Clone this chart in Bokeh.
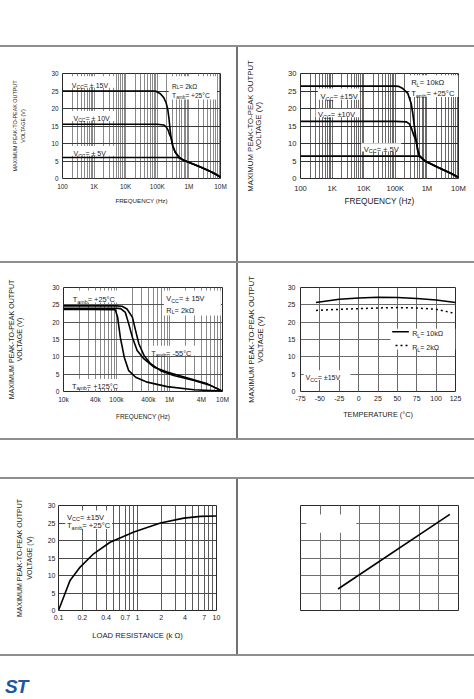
from bokeh.plotting import figure
from bokeh.models import FixedTicker, BoxAnnotation, Label, Spacer, Div, Arrow, GlobalInlineStyleSheet
from bokeh.layouts import row, column
from bokeh.embed import file_html
from bokeh.resources import INLINE
from bokeh.core.properties import value

FONT = "Liberation Sans"
INK = "#1b1b1b"

# ---------------- data ----------------
# Panel 1 : max output swing vs frequency, RL = 2 kOhm, Tamb = +25 C
p1_freq_15 = [100, 1e3, 1e4, 5e4, 8.7e4, 1.25e5, 1.6e5, 1.89e5, 2.14e5, 2.36e5, 2.53e5, 2.73e5, 3.08e5, 3.74e5, 4.77e5, 6.88e5, 1.12e6, 2.32e6, 4.82e6, 7.84e6, 1e7]
p1_vpp_15 = [25.0, 25.0, 25.0, 25.0, 25.0, 24.2, 23.1, 21.7, 19.8, 16.9, 14.1, 11.7, 9.3, 7.4, 6.2, 5.2, 4.4, 3.3, 2.0, 1.0, 0.3]
p1_freq_10 = [100, 1e3, 1e4, 1e5, 1.6e5, 1.93e5, 2.2e5, 2.47e5, 2.73e5, 3.08e5, 3.74e5, 4.77e5, 6.88e5, 1.12e6, 2.32e6, 4.82e6, 7.84e6, 1e7]
p1_vpp_10 = [15.5, 15.5, 15.5, 15.5, 15.3, 14.7, 13.8, 12.4, 11.7, 9.3, 7.4, 6.2, 5.2, 4.4, 3.3, 2.0, 1.0, 0.3]
p1_freq_5 = [100, 1e3, 1e4, 1e5, 4.5e5, 6.88e5, 1.12e6, 2.32e6, 4.82e6, 7.84e6, 1e7]
p1_vpp_5 = [6.0, 6.0, 6.0, 6.0, 6.0, 5.2, 4.4, 3.3, 2.0, 1.0, 0.3]

# Panel 2 : RL = 10 kOhm, Tamb = +25 C
p2_freq_15 = [100, 1e3, 1e4, 1e5, 1.3e5, 1.73e5, 2.49e5, 3.18e5, 3.59e5, 4.05e5, 4.57e5, 5.16e5, 5.83e5, 8.39e5, 2.2e6, 5.9e6, 1e7]
p2_vpp_15 = [26.4, 26.4, 26.4, 26.4, 26.3, 25.7, 24.3, 21.4, 18.5, 14.7, 10.8, 8.0, 6.5, 5.1, 3.2, 1.4, 0.3]
p2_freq_10 = [100, 1e3, 1e4, 1e5, 2.2e5, 2.8e5, 3.3e5, 3.85e5, 4.57e5, 5.16e5, 5.83e5, 8.39e5, 2.2e6, 5.9e6, 1e7]
p2_vpp_10 = [16.3, 16.3, 16.3, 16.3, 16.2, 15.6, 14.2, 12.3, 10.8, 8.0, 6.5, 5.1, 3.2, 1.4, 0.3]
p2_freq_5 = [100, 1e3, 1e4, 1e5, 5.16e5, 5.83e5, 8.39e5, 2.2e6, 5.9e6, 1e7]
p2_vpp_5 = [6.4, 6.4, 6.4, 6.4, 6.4, 6.3, 5.1, 3.2, 1.4, 0.3]

# Panel 3 : VCC = +-15V, RL = 2 kOhm, three temperatures
p3_freq_25 = [1e4, 3e4, 1e5, 1.27e5, 1.58e5, 2.0e5, 2.3e5, 2.65e5, 3.3e5, 4.4e5, 6.8e5, 1.2e6, 2.9e6, 6.0e6, 1e7]
p3_vpp_25 = [24.7, 24.7, 24.7, 24.6, 23.8, 21.4, 17.5, 13.7, 10.4, 8.0, 6.0, 4.6, 3.2, 1.7, 0.1]
p3_freq_m55 = [1e4, 3e4, 1e5, 1.2e5, 1.47e5, 1.7e5, 2.0e5, 2.45e5, 3.3e5, 5.1e5, 9.0e5, 2.2e6, 5.2e6, 1e7]
p3_vpp_m55 = [24.0, 24.0, 24.0, 23.9, 22.8, 19.5, 15.6, 11.8, 9.4, 7.0, 5.6, 3.9, 2.2, 0.1]
p3_freq_125 = [1e4, 3e4, 9.5e4, 1.05e5, 1.18e5, 1.4e5, 1.7e5, 2.3e5, 3.8e5, 9.0e5, 2.9e6, 1e7]
p3_vpp_125 = [23.7, 23.7, 23.6, 21.4, 15.6, 9.9, 6.0, 4.1, 2.7, 1.4, 0.5, 0.1]

# Panel 4 : swing vs temperature
p4_temp = [-55, -25, 0, 25, 50, 75, 100, 125]
p4_vpp_10k = [25.7, 26.6, 27.0, 27.2, 27.1, 26.8, 26.4, 25.7]
p4_vpp_2k = [23.4, 23.7, 23.9, 24.1, 24.2, 24.1, 23.7, 22.5]

# Panel 5 : swing vs load resistance
p5_rload = [0.1, 0.116, 0.14, 0.188, 0.278, 0.45, 0.9, 1.95, 3.86, 6.3, 10]
p5_vpp = [0.0, 3.8, 8.6, 12.4, 16.2, 19.5, 22.4, 25.0, 26.4, 26.9, 27.0]

# Panel 6 : unlabeled grid chart (grid units)
p6_x = [1.9, 7.56]
p6_y = [1.23, 5.49]

# tick labels
freq_ticks_a = [100, 1000, 10000, 100000, 1000000, 10000000]
freq_labels_a = ["100", "1K", "10K", "100K", "1M", "10M"]
freq_ticks_b = [10000, 40000, 100000, 400000, 1000000, 4000000, 10000000]
freq_labels_b = ["10k", "40k", "100k", "400k", "1M", "4M", "10M"]
temp_ticks = [-75, -50, -25, 0, 25, 50, 75, 100, 125]
temp_labels = ["-75", "-50", "-25", "0", "25", "50", "75", "100", "125"]
rl_ticks = [0.1, 0.2, 0.4, 0.7, 1, 2, 4, 7, 10]
rl_labels = ["0.1", "0.2", "0.4", "0.7", "1", "2", "4", "7", "10"]
v_ticks = [0, 5, 10, 15, 20, 25, 30]

YLABEL = "MAXIMUM PEAK-TO-PEAK OUTPUT\nVOLTAGE (V)"

# ---------------- helpers ----------------
AW = {' ': .278, '=': .584, '±': .584, '+': .584, '-': .333, '°': .4, 'Ω': .768,
      'V': .667, 'C': .722, 'R': .722, 'L': .556, 'T': .611, 'a': .556, 'm': .833,
      'b': .556, 'k': .5, 'K': .667}
for d in "0123456789":
    AW[d] = .556


def tw(s, size):
    return sum(AW.get(c, 0.6) for c in s) * size


def rich(p, x, y, parts, size):
    off = 0.0
    for t, sub in parts:
        fs = size * 0.72 if sub else size
        p.text(x=[x], y=[y], text=[t], x_offset=off, y_offset=(size * 0.28 if sub else 0),
               text_font=value(FONT), text_font_size=f"{fs:.2f}px", text_color=INK,
               text_baseline="alphabetic", text_align="left")
        off += tw(t, fs)


def white_box(p, l, r, b, t):
    p.add_layout(BoxAnnotation(left=l, right=r, bottom=b, top=t, fill_color="white",
                               fill_alpha=1.0, line_color=None, level="underlay"))


def key(t):
    return int(t) if float(t).is_integer() else t


def panel(w, h, borders, x_type, x_range, y_range=(0, 30)):
    l, r, t, b = borders
    p = figure(width=w, height=h, x_axis_type=x_type, x_range=x_range, y_range=y_range,
               output_backend="svg", toolbar_location=None,
               min_border_left=l, min_border_right=r, min_border_top=t, min_border_bottom=b)
    p.outline_line_color = "#2a2a2a"
    p.outline_line_width = 1
    p.border_fill_color = "white"
    p.background_fill_color = "white"
    return p


def setup_x(p, ticks, labels, minor, label, tf, lf, tc, lc, tick_len=0):
    ax = p.xaxis[0]
    ax.ticker = FixedTicker(ticks=ticks, minor_ticks=minor)
    ax.major_label_overrides = {key(t): s for t, s in zip(ticks, labels)}
    ax.axis_label = label
    ax.axis_line_color = None
    ax.major_tick_line_color = INK if tick_len else None
    ax.major_tick_out = tick_len
    ax.major_tick_in = 0
    ax.minor_tick_line_color = None
    ax.minor_tick_out = 0
    ax.minor_tick_in = 0
    ax.major_label_text_font = FONT
    ax.major_label_text_font_size = f"{tf}px"
    ax.major_label_text_color = INK
    ax.axis_label_text_font = FONT
    ax.axis_label_text_font_style = "normal"
    ax.axis_label_text_font_size = f"{lf}px"
    ax.axis_label_text_color = INK
    s1 = tc - 0.55 * tf - tick_len
    ax.major_label_standoff = max(0, round(s1))
    ax.axis_label_standoff = max(0, round(lc - 0.55 * lf - (tick_len + s1 + 1.117 * tf)))


def setup_y(p, ticks, tf, yf, lh, frame_left, tick_standoff, block_right, tick_len=0, labels=None):
    ax = p.yaxis[0]
    ax.ticker = FixedTicker(ticks=ticks)
    if labels:
        ax.major_label_overrides = {key(t): s for t, s in zip(ticks, labels)}
    ax.axis_label = YLABEL
    ax.axis_line_color = None
    ax.major_tick_line_color = INK if tick_len else None
    ax.major_tick_out = tick_len
    ax.major_tick_in = 0
    ax.minor_tick_line_color = None
    ax.minor_tick_out = 0
    ax.minor_tick_in = 0
    ax.major_label_text_font = FONT
    ax.major_label_text_font_size = f"{tf}px"
    ax.major_label_text_color = INK
    ax.major_label_standoff = tick_standoff
    ax.axis_label_text_font = FONT
    ax.axis_label_text_font_style = "normal"
    ax.axis_label_text_font_size = f"{yf}px"
    ax.axis_label_text_line_height = lh
    ax.axis_label_text_color = INK
    tick_w = 1.112 * tf
    ax.axis_label_standoff = max(0, round(frame_left - tick_len - tick_standoff - tick_w - block_right))


def log_minor(lo_exp, hi_exp):
    return [m * 10.0 ** e for e in range(lo_exp, hi_exp) for m in range(2, 10)]


def grids(p, xc, yc, minor=True):
    p.xgrid.grid_line_color = xc
    p.xgrid.grid_line_width = 1
    p.xgrid.minor_grid_line_color = xc if minor else None
    p.ygrid.grid_line_color = yc
    p.ygrid.grid_line_width = 1


VCC = lambda s: [("V", 0), ("CC", 1), (s, 0)]
TAMB = lambda s: [("T", 0), ("amb", 1), (s, 0)]
RL = lambda s: [("R", 0), ("L", 1), (s, 0)]

# ---------------- panel 1 ----------------
p1 = panel(236, 214, (62, 16, 25, 83), "log", (100, 1e7))
setup_x(p1, freq_ticks_a, freq_labels_a, log_minor(2, 7), "FREQUENCY (Hz)", 6.4, 6.2, 7.7, 18.5)
setup_y(p1, v_ticks, 6.4, 5.4, 1.35, 62, 4, 29)
grids(p1, "#8a8a8a", "#3a3a3a")
white_box(p1, 155, 4.7e3, 25.9, 29.2)
white_box(p1, 155, 4.7e3, 16.4, 19.3)
white_box(p1, 180, 4.7e3, 6.5, 9.3)
white_box(p1, 2.3e5, 7.8e6, 22.6, 29.2)
for f, v in [(p1_freq_15, p1_vpp_15), (p1_freq_10, p1_vpp_10), (p1_freq_5, p1_vpp_5)]:
    p1.line(f, v, line_color="black", line_width=1.6)
rich(p1, 198, 26.7, VCC(" = ± 15V"), 7.0)
rich(p1, 223, 17.2, VCC(" = ± 10V"), 7.0)
rich(p1, 223, 7.1, VCC(" = ± 5V"), 7.0)
rich(p1, 2.94e5, 26.4, RL(" = 2kΩ"), 6.6)
rich(p1, 2.94e5, 23.6, TAMB(" = +25°C"), 6.6)

# ---------------- panel 2 ----------------
p2 = panel(236, 214, (62, 16, 26, 83), "log", (100, 1e7))
setup_x(p2, freq_ticks_a, freq_labels_a, log_minor(2, 7), "FREQUENCY (Hz)", 7.6, 8.3, 8.7, 16.5)
setup_y(p2, v_ticks, 7.6, 7.8, 0.92, 62, 4, 28)
grids(p2, "#6a6a6a", "#2e2e2e")
white_box(p2, 354, 7.4e3, 22.5, 25.7)
white_box(p2, 300, 7.4e3, 17.5, 19.9)
white_box(p2, 8.3e3, 1.55e5, 7.7, 10.1)
white_box(p2, 2.8e5, 1e7, 23.3, 29.5)
for f, v in [(p2_freq_15, p2_vpp_15), (p2_freq_10, p2_vpp_10), (p2_freq_5, p2_vpp_5)]:
    p2.line(f, v, line_color="black", line_width=1.7)
rich(p2, 430, 23.3, VCC("= ±15V"), 7.6)
rich(p2, 355, 18.3, VCC("= ±10V"), 7.6)
rich(p2, 1.0e4, 8.4, VCC(" = ± 5V"), 7.6)
rich(p2, 3.17e5, 27.3, RL("= 10kΩ"), 7.6)
rich(p2, 3.17e5, 24.3, TAMB("  = +25°C"), 7.6)

# ---------------- panel 3 ----------------
p3 = panel(236, 175, (63, 14, 24, 47), "log", (1e4, 1e7))
setup_x(p3, freq_ticks_b, freq_labels_b, log_minor(4, 7), "FREQUENCY (Hz)", 6.6, 6.4, 7.3, 21.5)
setup_y(p3, v_ticks, 6.6, 7.1, 1.0, 63, 4, 27)
grids(p3, "#8a8a8a", "#555555")
white_box(p3, 1.44e4, 1.18e5, 25.7, 29.1)
white_box(p3, 7.85e5, 9.3e6, 21.9, 29.1)
white_box(p3, 4.07e5, 3.9e6, 10.4, 13.2)
white_box(p3, 1.24e4, 1.48e5, 0.8, 3.6)
for f, v in [(p3_freq_25, p3_vpp_25), (p3_freq_m55, p3_vpp_m55), (p3_freq_125, p3_vpp_125)]:
    p3.line(f, v, line_color="black", line_width=1.6)
rich(p3, 1.5e4, 26.4, TAMB(" = +25°C"), 7.4)
rich(p3, 8.7e5, 26.7, VCC(" = ± 15V"), 7.4)
rich(p3, 8.7e5, 23.5, RL(" = 2kΩ"), 7.4)
rich(p3, 4.52e5, 11.0, TAMB(" = -55°C"), 7.4)
rich(p3, 1.44e4, 1.5, TAMB(" = +125°C"), 7.4)

# ---------------- panel 4 ----------------
p4 = panel(236, 175, (62, 19, 24, 45), "linear", (-75, 125))
setup_x(p4, temp_ticks, temp_labels, [], "TEMPERATURE (°C)", 7.0, 7.3, 7.7, 22)
setup_y(p4, v_ticks, 7.0, 7.5, 0.95, 62, 5, 29)
grids(p4, "#6a6a6a", "#6a6a6a", minor=False)
white_box(p4, 41, 125, 12.1, 18.1)
white_box(p4, -70.7, -10.5, 3.3, 6.1)
p4.line(p4_temp, p4_vpp_10k, line_color="black", line_width=1.5)
p4.line(p4_temp, p4_vpp_2k, line_color="black", line_width=1.5, line_dash="2 3")
p4.add_layout(Arrow(end=None, x_start=43.3, x_end=64.8, y_start=17.2, y_end=17.2,
                    line_color="black", line_width=1.5))
p4.add_layout(Arrow(end=None, x_start=47.6, x_end=64.8, y_start=13.3, y_end=13.3,
                    line_color="black", line_width=1.5, line_dash="2 3"))
rich(p4, 69.1, 16.5, RL(" = 10kΩ"), 7.1)
rich(p4, 69.1, 12.6, RL(" = 2kΩ"), 7.1)
rich(p4, -68.5, 4.0, VCC(" = ±15V"), 7.1)

# ---------------- panel 5 ----------------
p5 = panel(236, 175, (58, 20, 26, 44), "log", (0.1, 10))
setup_x(p5, rl_ticks, rl_labels, log_minor(-1, 1), "LOAD RESISTANCE (k Ω)", 7.0, 7.7, 7.7, 24)
setup_y(p5, v_ticks, 7.0, 7.0, 1.4, 58, 3, 35)
grids(p5, "#5a5a5a", "#4a4a4a")
white_box(p5, 0.122, 0.475, 23.3, 28.6)
p5.line(p5_rload, p5_vpp, line_color="black", line_width=1.6)
rich(p5, 0.128, 26.7, VCC(" = ±15V"), 7.6)
rich(p5, 0.128, 24.3, TAMB("= +25°C"), 7.6)

# ---------------- panel 6 ----------------
p6 = panel(236, 175, (62, 16, 25, 44), "linear", (0, 8), (0, 6))
p6.xaxis.visible = False
p6.yaxis.visible = False
p6.xaxis[0].ticker = FixedTicker(ticks=list(range(0, 9)))
p6.yaxis[0].ticker = FixedTicker(ticks=list(range(0, 7)))
grids(p6, "#6f6f6f", "#6f6f6f", minor=False)
white_box(p6, 0.29, 2.82, 4.45, 5.49)
p6.line(p6_x, p6_y, line_color="black", line_width=1.6)
p6.add_layout(Label(x=5.62, y=-1.08, text="±", text_font=FONT, text_font_size="7px",
                    text_color="#444444", text_align="center", text_baseline="middle"))

# ---------------- page layout ----------------
def hline(w):
    return Spacer(width=w, height=2, styles={"background-color": "#8e8e8e"})


def vline(h):
    return Spacer(width=2, height=h, styles={"background-color": "#707070"})


logo = Div(text='<div style="padding:23px 0 0 5px;font-family:\'Liberation Sans\';font-style:italic;'
                'font-weight:bold;font-size:19px;line-height:16px;color:#2057a0;letter-spacing:-1px;">ST</div>',
           width=474, height=43, margin=0)

page = column(
    Spacer(width=474, height=45),
    hline(474),
    row(p1, vline(214), p2),
    hline(474),
    row(p3, vline(175), p4),
    hline(474),
    Spacer(width=474, height=37),
    hline(474),
    row(p5, vline(175), p6),
    hline(474),
    logo,
    stylesheets=[GlobalInlineStyleSheet(css="html, body { margin: 0 !important; padding: 0; overflow: hidden; }")],
)

open("out.html", "w").write(file_html(page, INLINE))
